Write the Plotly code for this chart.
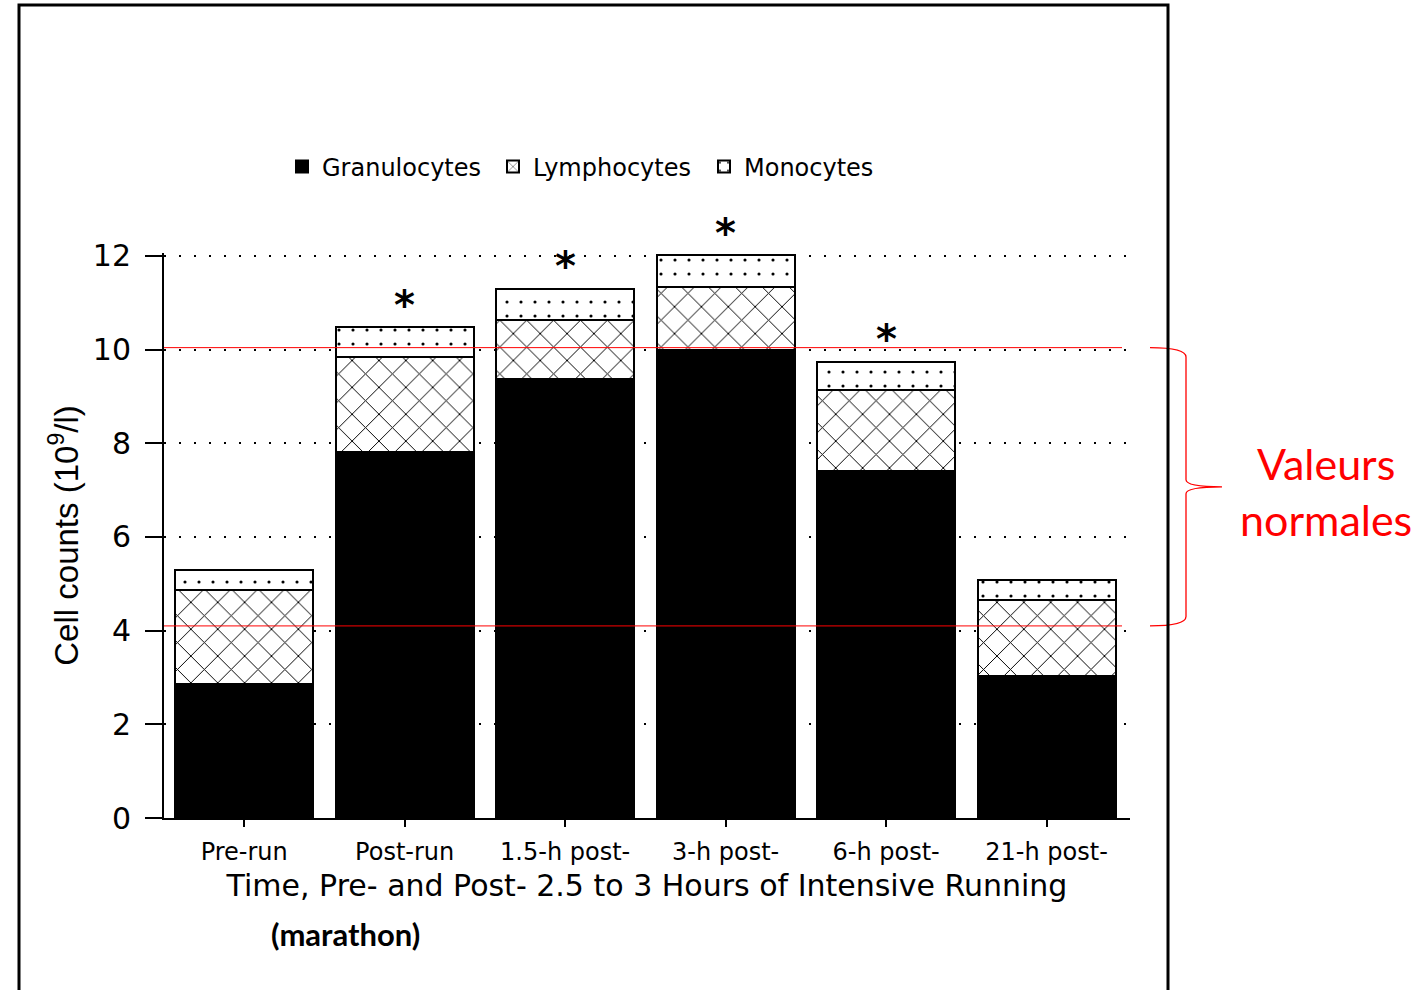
import plotly.graph_objects as go

# Leukocyte subsets before and after intensive running (marathon)
time_points = ["Pre-run", "Post-run", "1.5-h post-", "3-h post-", "6-h post-", "21-h post-"]
granulocytes = [2.86, 7.82, 9.37, 9.99, 7.41, 3.03]
lymphocytes = [2.01, 2.02, 1.26, 1.35, 1.73, 1.63]
monocytes = [0.43, 0.64, 0.67, 0.68, 0.60, 0.42]
significant = [False, True, True, True, True, False]
normal_range = [4.1, 10.04]  # 10^9/l
Y_MAX = 12.06

# plot area in pixels (used to place decorations outside the axes)
L, R, B = 164, 1130, 818
UNIT = 46.83                      # pixels per 10^9/l
T = round(B - Y_MAX * UNIT)
W = R - L


def px(xpix):
    return (xpix - L) / W


def py(ypix):
    return (B - ypix) / (B - T)


AX_FONT = "DejaVu Sans"

fig = go.Figure()

fig.add_trace(go.Bar(
    name="Granulocytes", x=time_points, y=granulocytes,
    marker=dict(color="black", line=dict(color="black", width=2)),
))
fig.add_trace(go.Bar(
    name="Lymphocytes", x=time_points, y=lymphocytes,
    marker=dict(color="white", line=dict(color="black", width=2),
                pattern=dict(shape="x", size=19, solidity=0.1,
                             fgcolor="black", bgcolor="white", fillmode="replace")),
))
fig.add_trace(go.Bar(
    name="Monocytes", x=time_points, y=monocytes,
    marker=dict(color="white", line=dict(color="black", width=2),
                pattern=dict(shape=".", size=14, solidity=0.04,
                             fgcolor="black", bgcolor="white", fillmode="replace")),
))

# significance markers above the stacked totals (paper y so they may sit above the axis top)
totals = [g + l + m for g, l, m in zip(granulocytes, lymphocytes, monocytes)]
for i, (tot, sig) in enumerate(zip(totals, significant)):
    if sig:
        fig.add_annotation(xref="x", yref="paper", x=i, y=(tot + 0.52) / Y_MAX,
                           text="<b>*</b>", showarrow=False, yshift=-2,
                           font=dict(family=AX_FONT, size=40, color="black"),
                           yanchor="middle", xanchor="center")

# normal range lines
for v in normal_range:
    fig.add_shape(type="line", xref="paper", yref="y", x0=0, x1=px(1122), y0=v, y1=v,
                  line=dict(color="red", width=1), layer="above")

# curly brace marking the normal range
lo, hi = normal_range
mid = (lo + hi) / 2
a, s, t = px(1150), px(1186), px(1222)
brace = (f"M {a},{hi} Q {s},{hi} {s},{hi - 0.2} L {s},{mid + 0.15} "
         f"Q {s},{mid} {t},{mid} Q {s},{mid} {s},{mid - 0.15} "
         f"L {s},{lo + 0.2} Q {s},{lo} {a},{lo}")
fig.add_shape(type="path", xref="paper", yref="y", path=brace,
              line=dict(color="red", width=1.3))

fig.add_annotation(xref="paper", yref="y", x=px(1326), y=mid - 0.1,
                   text="Valeurs<br>normales", showarrow=False,
                   font=dict(family="Lato", size=43, color="red"),
                   xanchor="center", yanchor="middle", align="center")

fig.add_annotation(xref="paper", yref="paper", x=px(345), y=py(934),
                   text="<b>(marathon)</b>", showarrow=False,
                   font=dict(family="Lato", size=31, color="black"),
                   xanchor="center", yanchor="middle")

# outer frame
fig.add_shape(type="rect", xref="paper", yref="paper",
              x0=px(19), x1=px(1168), y0=py(1010), y1=py(5),
              line=dict(color="black", width=3))

fig.update_layout(
    width=1418, height=990,
    barmode="stack", bargap=0.14,
    paper_bgcolor="white", plot_bgcolor="white",
    margin=dict(l=L, r=1418 - R, t=T, b=990 - B, autoexpand=False),
    showlegend=True,
    legend=dict(orientation="h", x=px(282), y=py(167), xanchor="left", yanchor="middle",
                font=dict(family=AX_FONT, size=24, color="black"),
                traceorder="normal", itemwidth=30, entrywidth=166,
                bgcolor="rgba(0,0,0,0)"),
    xaxis=dict(
        range=[-0.5, 5.52], showline=True, linecolor="black", linewidth=2,
        ticks="outside", ticklen=7, tickwidth=1.5, tickcolor="black",
        ticklabelstandoff=4,
        showgrid=False, zeroline=False,
        tickfont=dict(family=AX_FONT, size=24, color="black"),
        title=dict(text="Time, Pre- and Post- 2.5 to 3 Hours of Intensive Running",
                   font=dict(family=AX_FONT, size=30, color="black"), standoff=10),
    ),
    yaxis=dict(
        range=[0, Y_MAX], showline=True, linecolor="black", linewidth=2,
        ticks="outside", ticklen=17, tickwidth=1.5, tickcolor="black",
        ticklabelstandoff=8,
        tickvals=[0, 2, 4, 6, 8, 10, 12],
        showgrid=True, gridcolor="black", gridwidth=1.5, griddash="2px,13px",
        zeroline=False,
        tickfont=dict(family=AX_FONT, size=30, color="black"),
        title=dict(text="Cell counts (10<sup>9</sup>/l)",
                   font=dict(family="Liberation Sans", size=33, color="black"), standoff=4),
    ),
)

fig.write_html("out.html")
